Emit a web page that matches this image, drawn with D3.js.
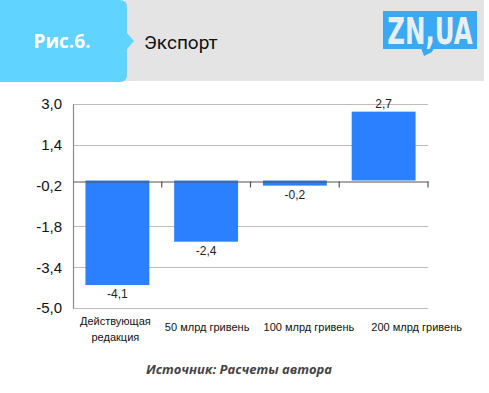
<!DOCTYPE html>
<html>
<head>
<meta charset="utf-8">
<script src="https://cdn.jsdelivr.net/npm/d3@7"></script>
<style>
  body { margin: 0; background: #fff; }
  svg text { font-family: "Liberation Sans", Arial, sans-serif; }
</style>
</head>
<body>
<svg id="chart" width="489" height="393"></svg>
<script>
// data
const categories = ["Действующая редакция", "50 млрд гривень", "100 млрд гривень", "200 млрд гривень"];
const values = [-4.1, -2.4, -0.2, 2.7];
const yTicks = [3.0, 1.4, -0.2, -1.8, -3.4, -5.0];
const figLabel = "Рис.6.";
const title = "Экспорт";
const source = "Источник: Расчеты автора";

const svg = d3.select("#chart");

// header
svg.append("rect").attr("x", 125).attr("y", 0).attr("width", 359).attr("height", 81).attr("fill", "#e4e4e4");
svg.append("path")
  .attr("d", "M0,0 H120 Q127,0 127,7 V33 L134,41 L127,49 V75 Q127,82 120,82 H0 Z")
  .attr("fill", "#61d3ff");
svg.append("text").attr("x", 62).attr("y", 48).attr("text-anchor", "middle")
  .attr("fill", "#fff").style("font-family", "'Open Sans', sans-serif")
  .style("font-weight", "bold").style("font-size", "19px").text(figLabel);
svg.append("text").attr("x", 144).attr("y", 49)
  .attr("fill", "#111").style("font-family", "Roboto, sans-serif")
  .style("font-size", "19px").text(title);

// logo
const logo = svg.append("g");
logo.append("rect").attr("x", 383).attr("y", 11).attr("width", 94).attr("height", 38).attr("fill", "#3aa9f2");
logo.append("path").attr("d", "M421,48 L424,56 L432,52 L434,48 Z").attr("fill", "#3aa9f2");
logo.append("text").attr("x", 430).attr("y", 44).attr("text-anchor", "middle")
  .attr("fill", "#e9eef2").style("font-family", "'DejaVu Sans', sans-serif")
  .style("font-weight", "bold").style("font-size", "37px")
  .attr("transform", "translate(430,0) scale(0.66,1) translate(-430,0)")
  .text("ZN,UA");

// chart
const margin = { left: 73, right: 428, top: 104, bottom: 308 };
const x = d3.scaleBand().domain(categories).range([margin.left, margin.right]).paddingInner(0.28).paddingOuter(0.14);
const xc = d3.scaleBand().domain(categories).range([margin.left, margin.right]);
const y = d3.scaleLinear().domain([-5, 3]).range([margin.bottom, margin.top]);
const fmt = d => d3.format(".1f")(d).replace(".", ",").replace("−", "-");

// gridlines
svg.append("g").selectAll("line")
  .data(yTicks.filter(d => Math.abs(y(d) - y(0)) > 8))
  .enter().append("line")
  .attr("x1", margin.left).attr("x2", margin.right)
  .attr("y1", d => Math.round(y(d)) + 0.5).attr("y2", d => Math.round(y(d)) + 0.5)
  .attr("stroke", "#bdbdbd").attr("stroke-width", 1.2);

// y axis
const yAxis = svg.append("g").attr("transform", `translate(${margin.left},0)`)
  .call(d3.axisLeft(y).tickValues(yTicks).tickSize(0).tickPadding(11).tickFormat(fmt));
yAxis.select(".domain").attr("stroke", "#8a8a8a").attr("stroke-width", 1.2);
yAxis.selectAll("text").style("font-size", "15px").attr("fill", "#111")
  .style("font-family", "'Liberation Sans', sans-serif");

// bars
svg.append("g").selectAll("rect")
  .data(values).enter().append("rect")
  .attr("x", (d, i) => x(categories[i]))
  .attr("width", x.bandwidth())
  .attr("y", d => y(Math.max(0, d)))
  .attr("height", d => Math.abs(y(d) - y(0)))
  .attr("fill", "#2a80ff");

// value labels
svg.append("g").selectAll("text")
  .data(values).enter().append("text")
  .attr("x", (d, i) => x(categories[i]) + x.bandwidth() / 2)
  .attr("y", d => d < 0 ? y(d) + 13 : y(d) - 4)
  .attr("text-anchor", "middle")
  .attr("fill", "#222")
  .style("font-size", "12px")
  .text(fmt);

// x axis at zero
const xAxis = svg.append("g").attr("transform", `translate(0,${Math.round(y(0)) + 0.5})`)
  .call(d3.axisBottom(xc).tickSize(0).tickFormat(""));
xAxis.select(".domain").attr("stroke", "#555").attr("stroke-width", 1.2);
xAxis.append("g").selectAll("line")
  .data(categories.slice(1).concat([null])).enter().append("line")
  .attr("x1", d => d ? xc(d) : margin.right).attr("x2", d => d ? xc(d) : margin.right)
  .attr("y1", 0).attr("y2", 6)
  .attr("stroke", "#555").attr("stroke-width", 1.2);

// category labels (spread out like the original, the long ones pushed right)
const labelShift = [-2, 1, 14, 33];
const catG = svg.append("g").selectAll("text")
  .data(categories).enter().append("text")
  .attr("x", (d, i) => xc(d) + xc.bandwidth() / 2 + labelShift[i])
  .attr("y", 331)
  .attr("text-anchor", "middle")
  .attr("fill", "#111")
  .style("font-size", "11px");
catG.each(function(d, i) {
  const el = d3.select(this);
  const cx = xc(d) + xc.bandwidth() / 2 + labelShift[i];
  if (i === 0) {
    const parts = d.split(" ");
    el.attr("y", 325);
    el.append("tspan").attr("x", cx).text(parts[0]);
    el.append("tspan").attr("x", cx).attr("dy", 16).text(parts[1]);
  } else {
    el.text(d);
  }
});

// source
svg.append("text").attr("x", 239).attr("y", 374).attr("text-anchor", "middle")
  .attr("fill", "#444").style("font-family", "'Open Sans', sans-serif")
  .style("font-weight", "bold").style("font-style", "italic").style("font-size", "13px")
  .text(source);
</script>
</body>
</html>
